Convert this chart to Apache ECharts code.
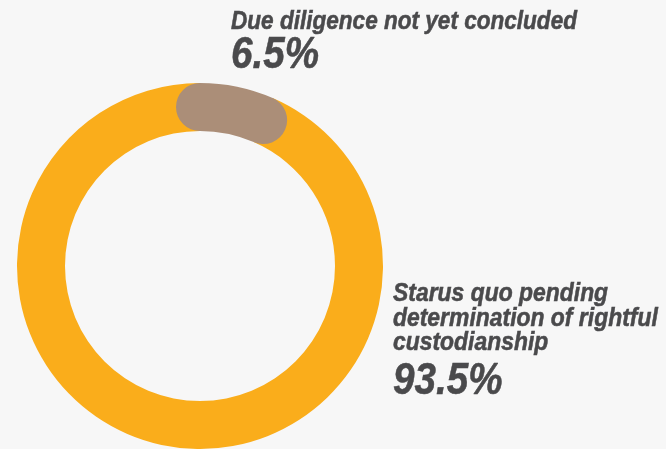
<!DOCTYPE html>
<html><head><meta charset="utf-8">
<script src="https://cdn.jsdelivr.net/npm/echarts@6/dist/echarts.min.js"></script>
<style>html,body{margin:0;padding:0;background:#f7f7f7}#c{width:666px;height:449px}</style>
</head><body><div id="c"></div>
<script>
const categories = ['Starus quo pending determination of rightful custodianship', 'Due diligence not yet concluded'];
const labelLines = [['Starus quo pending', 'determination of rightful', 'custodianship'], ['Due diligence not yet concluded']];
const values = [93.5, 6.5];
const colors = ['#FAAD1B', '#AB8E78'];

const FONT = '"Liberation Sans", Arial, sans-serif';
const TXT = '#4a4a4c';
const chart = echarts.init(document.getElementById('c'), null, {renderer: 'canvas'});

function txt(text, x, baseline, size, sx, sy) {
  return {
    type: 'text', x: x, y: baseline - 0.35 * size * sy, scaleX: sx, scaleY: sy,
    style: {text: text, x: 0, y: 0, verticalAlign: 'middle', align: 'left',
            font: 'italic bold ' + size + 'px ' + FONT, fill: TXT,
            stroke: TXT, lineWidth: 0.5}
  };
}

function labelEls(i, x, firstBaseline, nameSize, nameSx, lh, valBaseline, valSize, valSx) {
  const els = labelLines[i].map((l, k) => txt(l, x, firstBaseline + k * lh, nameSize, nameSx, 1.07));
  els.push(txt(values[i].toFixed(1) + '%', x, valBaseline, valSize, valSx, 1.04));
  return els;
}

chart.setOption({
  backgroundColor: '#f7f7f7',
  animation: false,
  polar: {center: [200, 266], radius: [135, 183]},
  angleAxis: {type: 'value', min: 0, max: 100, startAngle: 66.6, clockwise: true, show: false},
  radiusAxis: {type: 'category', data: ['share'], show: false},
  series: [
    {type: 'bar', coordinateSystem: 'polar', stack: 'ring', name: categories[0],
     data: [values[0]], barCategoryGap: '0%', itemStyle: {color: colors[0]}, z: 1},
    {type: 'bar', coordinateSystem: 'polar', stack: 'ring', name: categories[1],
     data: [values[1]], roundCap: true, barCategoryGap: '0%', itemStyle: {color: colors[1]}, z: 2}
  ],
  graphic: [].concat(
    labelEls(1, 231, 31, 24, 0.94, 24, 71.5, 42, 0.92),
    labelEls(0, 393, 303.3, 23.5, 0.975, 24.5, 397, 42, 0.92)
  )
});
</script></body></html>
